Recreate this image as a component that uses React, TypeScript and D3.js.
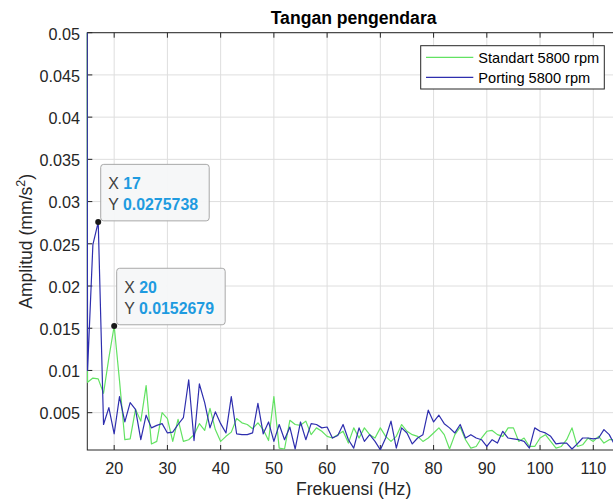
import React from "react";
import * as d3 from "d3";

const freqHz = [14, 15, 16, 17, 18, 19, 20, 21, 22, 23, 24, 25, 26, 27, 28, 29, 30, 31, 32, 33, 34, 35, 36, 37, 38, 39, 40, 41, 42, 43, 44, 45, 46, 47, 48, 49, 50, 51, 52, 53, 54, 55, 56, 57, 58, 59, 60, 61, 62, 63, 64, 65, 66, 67, 68, 69, 70, 71, 72, 73, 74, 75, 76, 77, 78, 79, 80, 81, 82, 83, 84, 85, 86, 87, 88, 89, 90, 91, 92, 93, 94, 95, 96, 97, 98, 99, 100, 101, 102, 103, 104, 105, 106, 107, 108, 109, 110, 111, 112, 113, 114, 115];

const standart5800 = [0.1886, 0.0086, 0.0091, 0.009, 0.0073, 0.0115, 0.0152679, 0.0088, 0.0018, 0.0019, 0.0054, 0.004, 0.0082, 0.0013, 0.0016, 0.005, 0.0043, 0.0016, 0.0042, 0.0016, 0.0018, 0.0024, 0.0037, 0.0029, 0.0055, 0.003, 0.0016, 0.0022, 0.0027, 0.0043, 0.0038, 0.0036, 0.0031, 0.0038, 0.003, 0.0017, 0.0069, 0.0008, 0.0007, 0.0041, 0.0036, 0.0035, 0.004, 0.0024, 0.0032, 0.0028, 0.0022, 0.002, 0.0024, 0.0028, 0.0014, 0.0032, 0.002, 0.0032, 0.0024, 0.002, 0.0032, 0.0022, 0.0016, 0.0022, 0.0036, 0.0028, 0.0024, 0.0022, 0.0016, 0.002, 0.0026, 0.0032, 0.0024, 0.0007, 0.0024, 0.0033, 0.0018, 0.0008, 0.001, 0.002, 0.0028, 0.0029, 0.0024, 0.0022, 0.0032, 0.0032, 0.0016, 0.002, 0.001, 0.001, 0.002, 0.0024, 0.0016, 0.0008, 0.001, 0.0018, 0.0032, 0.001, 0.0012, 0.002, 0.0016, 0.0022, 0.0014, 0.0018, 0.0018, 0.0015];

const porting5800 = [0.454, 0.01, 0.0249, 0.0275738, 0.0036, 0.0056, 0.0025, 0.0069, 0.0039, 0.0062, 0.0054, 0.0018, 0.0047, 0.0032, 0.0035, 0.0037, 0.0026, 0.0027, 0.0036, 0.0044, 0.0089, 0.0017, 0.0084, 0.0062, 0.0032, 0.0051, 0.0037, 0.0026, 0.0069, 0.0025, 0.0024, 0.0024, 0.0026, 0.0061, 0.0025, 0.0039, 0.0016, 0.0036, 0.0018, 0.0033, 0.0007, 0.0039, 0.0018, 0.0037, 0.0036, 0.0032, 0.0033, 0.002, 0.0023, 0.0036, 0.0018, 0.0008, 0.0032, 0.0016, 0.0024, 0.0016, 0.0006, 0.002, 0.004, 0.0008, 0.0032, 0.0026, 0.0013, 0.002, 0.0024, 0.0053, 0.0039, 0.0047, 0.0037, 0.0032, 0.0026, 0.0036, 0.002, 0.0024, 0.002, 0.0018, 0.001, 0.0018, 0.0014, 0.0028, 0.002, 0.0019, 0.0018, 0.0016, 0.0008, 0.0032, 0.0028, 0.0026, 0.0022, 0.0013, 0.0014, 0.0014, 0.0007, 0.0013, 0.002, 0.002, 0.0019, 0.002, 0.003, 0.0024, 0.0012, 0.0015];

const xTicks = [20, 30, 40, 50, 60, 70, 80, 90, 100, 110];
const yTicks = [0.005, 0.01, 0.015, 0.02, 0.025, 0.03, 0.035, 0.04, 0.045, 0.05];
const yTickLabels = ["0.005", "0.01", "0.015", "0.02", "0.025", "0.03", "0.035", "0.04", "0.045", "0.05"];

const seriesNames = ["Standart 5800 rpm", "Porting 5800 rpm"];
const seriesColors = ["#62e262", "#2e2eae"];

const dataTips = [
  { x: 17, y: 0.0275738, label: "0.0275738", series: 1 },
  { x: 20, y: 0.0152679, label: "0.0152679", series: 0 },
];

const W = 613;
const H = 500;
const left = 87.3;
const right = 619.9;
const top = 32.7;
const bottom = 450;
const font = "'Liberation Sans', Arial, Helvetica, sans-serif";
const axisColor = "#262626";
const gridColor = "#dedede";

export default function App() {
  const x = d3.scaleLinear().domain([14.95, 115]).range([left, right]);
  const y = d3.scaleLinear().domain([0.00058, 0.05]).range([bottom, top]);

  const lineGen = (vals: number[]) =>
    d3
      .line<number>()
      .x((_, i) => x(freqHz[i]))
      .y((v) => y(v))(vals) || "";

  const series = [standart5800, porting5800];
  const tickLen = 5;

  return (
    <svg
      width={W}
      height={H}
      style={{ position: "absolute", left: 0, top: 0, background: "#fff" }}
      fontFamily={font}
    >
      <defs>
        <clipPath id="plotClip">
          <rect x={left - 0.6} y={top} width={right - left + 0.6} height={bottom - top} />
        </clipPath>
      </defs>
      <rect x={0} y={0} width={W} height={H} fill="#fff" />

      {/* grid */}
      {xTicks.map((t) => (
        <line key={"gx" + t} x1={x(t)} x2={x(t)} y1={top} y2={bottom} stroke={gridColor} strokeWidth={1} />
      ))}
      {yTicks.map((t) => (
        <line key={"gy" + t} x1={left} x2={right} y1={y(t)} y2={y(t)} stroke={gridColor} strokeWidth={1} />
      ))}

      {/* axes box */}
      <rect x={left} y={top} width={right - left} height={bottom - top} fill="none" stroke={axisColor} strokeWidth={1} />
      {xTicks.map((t) => (
        <g key={"xt" + t}>
          <line x1={x(t)} x2={x(t)} y1={bottom} y2={bottom - tickLen} stroke={axisColor} />
          <line x1={x(t)} x2={x(t)} y1={top} y2={top + tickLen} stroke={axisColor} />
          <text x={x(t)} y={474} fontSize={16.2} textAnchor="middle" fill={axisColor}>
            {t}
          </text>
        </g>
      ))}
      {yTicks.map((t, i) => (
        <g key={"yt" + t}>
          <line x1={left} x2={left + tickLen} y1={y(t)} y2={y(t)} stroke={axisColor} />
          <line x1={right} x2={right - tickLen} y1={y(t)} y2={y(t)} stroke={axisColor} />
          <text x={80} y={y(t) + 6.8} fontSize={16.2} textAnchor="end" fill={axisColor}>
            {yTickLabels[i]}
          </text>
        </g>
      ))}

      {/* data (drawn over the axes, as with MATLAB's default bottom layer) */}
      <g clipPath="url(#plotClip)">
        {series.map((s, i) => (
          <path key={i} d={lineGen(s)} fill="none" stroke={seriesColors[i]} strokeWidth={1.2} strokeLinejoin="round" />
        ))}
      </g>

      {/* title and labels */}
      <text x={(left + right) / 2} y={24} fontSize={17.6} fontWeight="bold" textAnchor="middle" fill="#000">
        Tangan pengendara
      </text>
      <text x={(left + right) / 2} y={495} fontSize={17.6} textAnchor="middle" fill={axisColor}>
        Frekuensi (Hz)
      </text>
      <text
        transform={`translate(32, ${(top + bottom) / 2}) rotate(-90)`}
        fontSize={17.6}
        textAnchor="middle"
        fill={axisColor}
      >
        Amplitud (mm/s
        <tspan fontSize={12.5} dy={-7}>2</tspan>
        <tspan dy={7}>)</tspan>
      </text>

      {/* legend */}
      <rect x={420.7} y={45.7} width={183.6} height={43.3} fill="#fff" stroke={axisColor} strokeWidth={1} />
      {seriesNames.map((n, i) => (
        <g key={n}>
          <line x1={426} x2={473.3} y1={57.3 + i * 20} y2={57.3 + i * 20} stroke={seriesColors[i]} strokeWidth={1.2} />
          <text x={478.3} y={62.5 + i * 20} fontSize={14.6} fill="#000">
            {n}
          </text>
        </g>
      ))}

      {/* data tips */}
      {dataTips.map((d) => {
        const px = x(d.x);
        const py = y(d.y);
        const bx = px + 2.5;
        const bh = 56.5;
        const bw = 108.5;
        const by = py - 1.2 - bh;
        return (
          <g key={d.x}>
            <rect x={bx} y={by} width={bw} height={bh} rx={3} fill="#f6f7f8" fillOpacity={0.95} stroke="#a8a8a8" strokeWidth={1} />
            <text x={bx + 7.5} y={by + 25} fontSize={15.9} fill="#404040">
              X <tspan fontWeight="bold" fill="#1e9be0">{d.x}</tspan>
            </text>
            <text x={bx + 7.5} y={by + 45.5} fontSize={15.9} fill="#404040">
              Y <tspan fontWeight="bold" fill="#1e9be0">{d.label}</tspan>
            </text>
            <circle cx={px} cy={py} r={3} fill="#1a1a1a" />
          </g>
        );
      })}
    </svg>
  );
}
